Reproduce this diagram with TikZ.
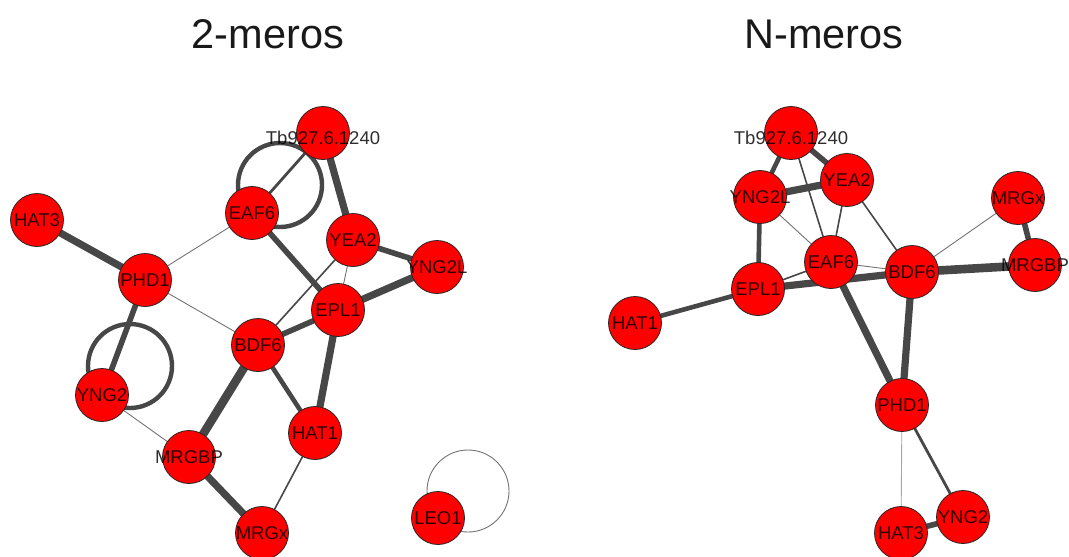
\documentclass[tikz,border=0pt]{standalone}
\usepackage{fontspec}
\setmainfont{Liberation Sans}
\pgfdeclarelayer{edges}
\pgfsetlayers{edges,main}
\begin{document}
\begin{tikzpicture}[x=1pt,y=-1pt,
  lbl/.style={text=black,text opacity=0.82,inner sep=0pt,
    font=\fontsize{18.5}{18.5}\selectfont},
  prot/.style={circle,draw=black!85,line width=0.8pt,fill=red,
    minimum size=53pt,inner sep=0pt,label={[lbl]center:#1}},
  title/.style={anchor=base,font=\fontsize{41.5}{44}\selectfont,text=black!90},
  link/.style={draw=black!72,line cap=round},
  wa/.style={link,line width=0.9pt,draw=black!55},
  wb/.style={link,line width=1.6pt},
  wc/.style={link,line width=2.8pt},
  wd/.style={link,line width=4.6pt},
  we/.style={link,line width=5.6pt},
  wf/.style={link,line width=7.2pt},
  wg/.style={link,line width=8.6pt},
  selfloop/.style={draw=black!72,line width=4.4pt},
  thinloop/.style={draw=black!55,line width=0.9pt}]
\useasboundingbox (0,0) rectangle (1069,557);

% titles
\node[title] (t2) at (268,48) {2-meros};
\node[title] (tn) at (824,48) {N-meros};

% ---------- 2-meros ----------
\node[prot={}] (tbL) at (323,133) {};
\node[lbl] (tbLtext) at (323,138) {Tb927.6.1240};
\node[prot=EAF6] (eafL) at (252,213) {};
\node[prot=HAT3] (hat3L) at (37,220) {};
\node[prot=PHD1] (phdL) at (145,280) {};
\node[prot=YEA2] (yeaL) at (353,240) {};
\node[prot=YNG2L] (yngtwolL) at (437,267) {};
\node[prot=EPL1] (eplL) at (338,310) {};
\node[prot=BDF6] (bdfL) at (258,345) {};
\node[prot=YNG2] (yngtwoL) at (102,395) {};
\node[prot=MRGBP] (mrgbpL) at (189,457) {};
\node[prot=HAT1] (hatoneL) at (315,433) {};
\node[prot=MRGx] (mrgxL) at (262,533) {};
\node[prot=LEO1] (leoL) at (438,518) {};

\begin{pgfonlayer}{edges}
\draw[selfloop] ([shift={(28,-28)}]eafL.center) circle[radius=42];
\draw[selfloop] ([shift={(28,-29)}]yngtwoL.center) circle[radius=42];
\draw[thinloop] ([shift={(30,-27)}]leoL.center) circle[radius=41];
\draw[wc] (tbL) -- (eafL);
\draw[wf] (tbL) -- (yeaL);
\draw[wf] (hat3L) -- (phdL);
\draw[wa] (phdL) -- (eafL);
\draw[wa] (phdL) -- (bdfL);
\draw[we] (phdL) -- (yngtwoL);
\draw[wa] (yngtwoL) -- (mrgbpL);
\draw[we] (eafL) -- (eplL);
\draw[we] (yeaL) -- (yngtwolL);
\draw[wa] (yeaL) -- (eplL);
\draw[wb] (yeaL) -- (bdfL);
\draw[wf] (eplL) -- (yngtwolL);
\draw[we] (eplL) -- (bdfL);
\draw[wf] (eplL) -- (hatoneL);
\draw[wd] (bdfL) -- (hatoneL);
\draw[wg] (bdfL) -- (mrgbpL);
\draw[wf] (mrgbpL) -- (mrgxL);
\draw[wb] (hatoneL) -- (mrgxL);
\end{pgfonlayer}

% ---------- N-meros ----------
\node[prot={}] (tbR) at (791,133) {};
\node[lbl] (tbRtext) at (791,138) {Tb927.6.1240};
\node[prot=YEA2] (yeaR) at (847,180) {};
\node[prot=YNG2L] (yngtwolR) at (760,197) {};
\node[prot=MRGx] (mrgxR) at (1018,198) {};
\node[prot=MRGBP] (mrgbpR) at (1035,265) {};
\node[prot=EAF6] (eafR) at (831,262) {};
\node[prot=BDF6] (bdfR) at (912,272) {};
\node[prot=EPL1] (eplR) at (758,289) {};
\node[prot=HAT1] (hatoneR) at (635,323) {};
\node[prot=PHD1] (phdR) at (902,405) {};
\node[prot=YNG2] (yngtwoR) at (963,517) {};
\node[prot=HAT3] (hat3R) at (901,533) {};

\begin{pgfonlayer}{edges}
\draw[wd] (tbR) -- (yngtwolR);
\draw[we] (tbR) -- (yeaR);
\draw[wb] (tbR) -- (eafR);
\draw[wf] (yngtwolR) -- (yeaR);
\draw[wa] (yngtwolR) -- (eafR);
\draw[wd] (yngtwolR) -- (eplR);
\draw[wb] (yeaR) -- (eafR);
\draw[wb] (yeaR) -- (bdfR);
\draw[wa] (mrgxR) -- (bdfR);
\draw[we] (mrgxR) -- (mrgbpR);
\draw[wg] (bdfR) -- (mrgbpR);
\draw[wa] (eafR) -- (bdfR);
\draw[wb] (eafR) -- (eplR);
\draw[wf] (eplR) -- (bdfR);
\draw[wd] (eplR) -- (hatoneR);
\draw[wf] (eafR) -- (phdR);
\draw[wf] (bdfR) -- (phdR);
\draw[wa,draw=black!35] (phdR) -- (hat3R);
\draw[wc] (phdR) -- (yngtwoR);
\draw[we] (hat3R) -- (yngtwoR);
\end{pgfonlayer}
\end{tikzpicture}
\end{document}
